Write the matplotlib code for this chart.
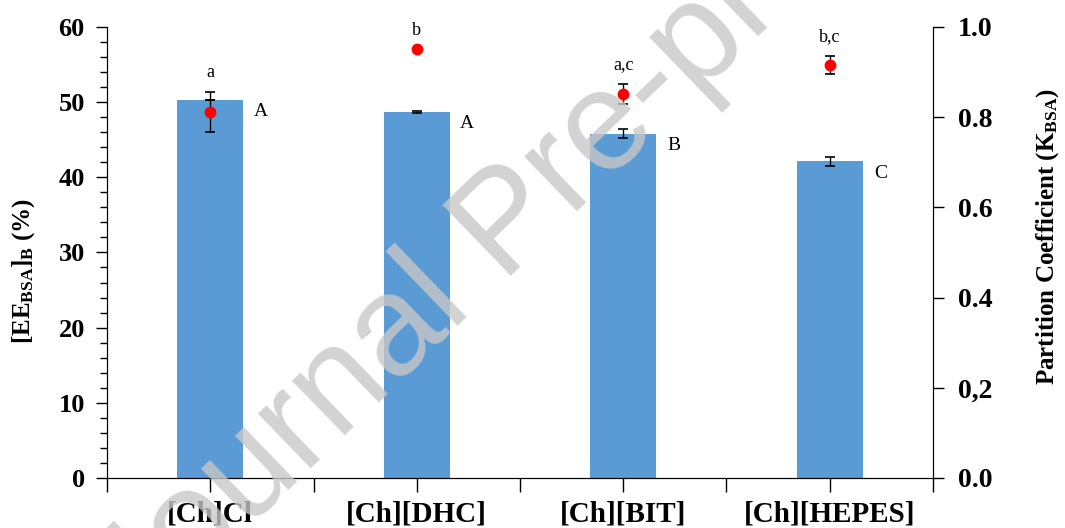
import numpy as np
import matplotlib.pyplot as plt

plt.rcParams['font.family'] = ['Liberation Serif', 'DejaVu Serif']
plt.rcParams['mathtext.fontset'] = 'custom'
plt.rcParams['mathtext.rm'] = 'Liberation Serif:bold'
plt.rcParams['mathtext.it'] = 'Liberation Serif:bold'
plt.rcParams['mathtext.bf'] = 'Liberation Serif:bold'

# datos
categorias = ["[Ch]Cl", "[Ch][DHC]", "[Ch][BIT]", "[Ch][HEPES]"]
ee_bsa = [50.3, 48.7, 45.8, 42.1]
ee_err = [0.0, 0.1, 0.6, 0.6]
k_bsa = [0.812, 0.950, 0.851, 0.916]
k_err = [0.044, 0.0, 0.022, 0.020]
letras_ee = ["A", "A", "B", "C"]
letras_k = ["a", "b", "a,c", "b,c"]
yticks_der = [0.0, 0.2, 0.4, 0.6, 0.8, 1.0]
yticklabels_der = ["0.0", "0,2", "0.4", "0.6", "0.8", "1.0"]

fig = plt.figure(figsize=(10.65, 5.28), dpi=100)
ax = fig.add_axes([0.1005, 0.0947, 0.7755, 0.8543])
x = np.arange(len(categorias))

ax.bar(x, ee_bsa, width=0.32, color="#5B9BD5", zorder=2)
ax.errorbar(x, ee_bsa, yerr=ee_err, fmt="none", ecolor="black", elinewidth=1,
            capsize=3.3, capthick=1.2, zorder=3)
for i, l in enumerate(letras_ee):
    ax.text(x[i] + 0.245, ee_bsa[i] - 1.6, l, fontsize=14, ha="center", va="center")

ax.set_xlim(-0.5, 3.5)
ax.set_ylim(0, 60)
ax.set_yticks(np.arange(0, 61, 10))
ax.set_yticks(np.arange(0, 61, 2), minor=True)
ax.set_xticks(np.arange(-0.5, 4, 1))
ax.set_xticklabels([""] * 5)
ax.set_xticks(x, minor=True)
ax.set_xticklabels(categorias, minor=True, fontsize=21, fontweight="bold")
ax.tick_params(axis="x", which="both", length=10, width=1, pad=6)
ax.tick_params(axis="y", which="major", length=8, width=1, labelsize=19, pad=8)
ax.tick_params(axis="y", which="minor", length=5, width=1)
for t in ax.get_yticklabels():
    t.set_fontweight("bold")
ax.spines["top"].set_visible(False)
ax.set_ylabel(r"$[EE_{BSA}]_{B}$ (%)", fontsize=18, fontweight="bold")
ax.yaxis.set_label_coords(-0.085, 0.459)

ax2 = ax.twinx()
ax2.set_ylim(0, 1.0)
ax2.errorbar(x, k_bsa, yerr=k_err, fmt="o", color="red", markersize=7.5,
             ecolor="black", elinewidth=1, capsize=3.3, capthick=1.2, zorder=4)
for i, l in enumerate(letras_k):
    top = k_bsa[i] + k_err[i]
    ax2.text(x[i], top + 0.043, l, fontsize=13, ha="center", va="center")
ax2.set_yticks(yticks_der)
ax2.set_yticklabels(yticklabels_der, fontsize=20, fontweight="bold")
ax2.tick_params(axis="y", length=8, width=1, pad=10)
ax2.spines["top"].set_visible(False)
ax2.set_ylabel(r"Partition Coefficient $(K_{BSA})$", fontsize=18, fontweight="bold")
ax2.yaxis.set_label_coords(1.123, 0.534)

# marca de agua
fig.text(0.477, 0.57, "Journal Pre-proof", fontsize=102, color="#c8c8c8", alpha=0.8,
         rotation=44, ha="center", va="center", family="Liberation Sans", zorder=10)

fig.savefig("out.png", dpi=100)
